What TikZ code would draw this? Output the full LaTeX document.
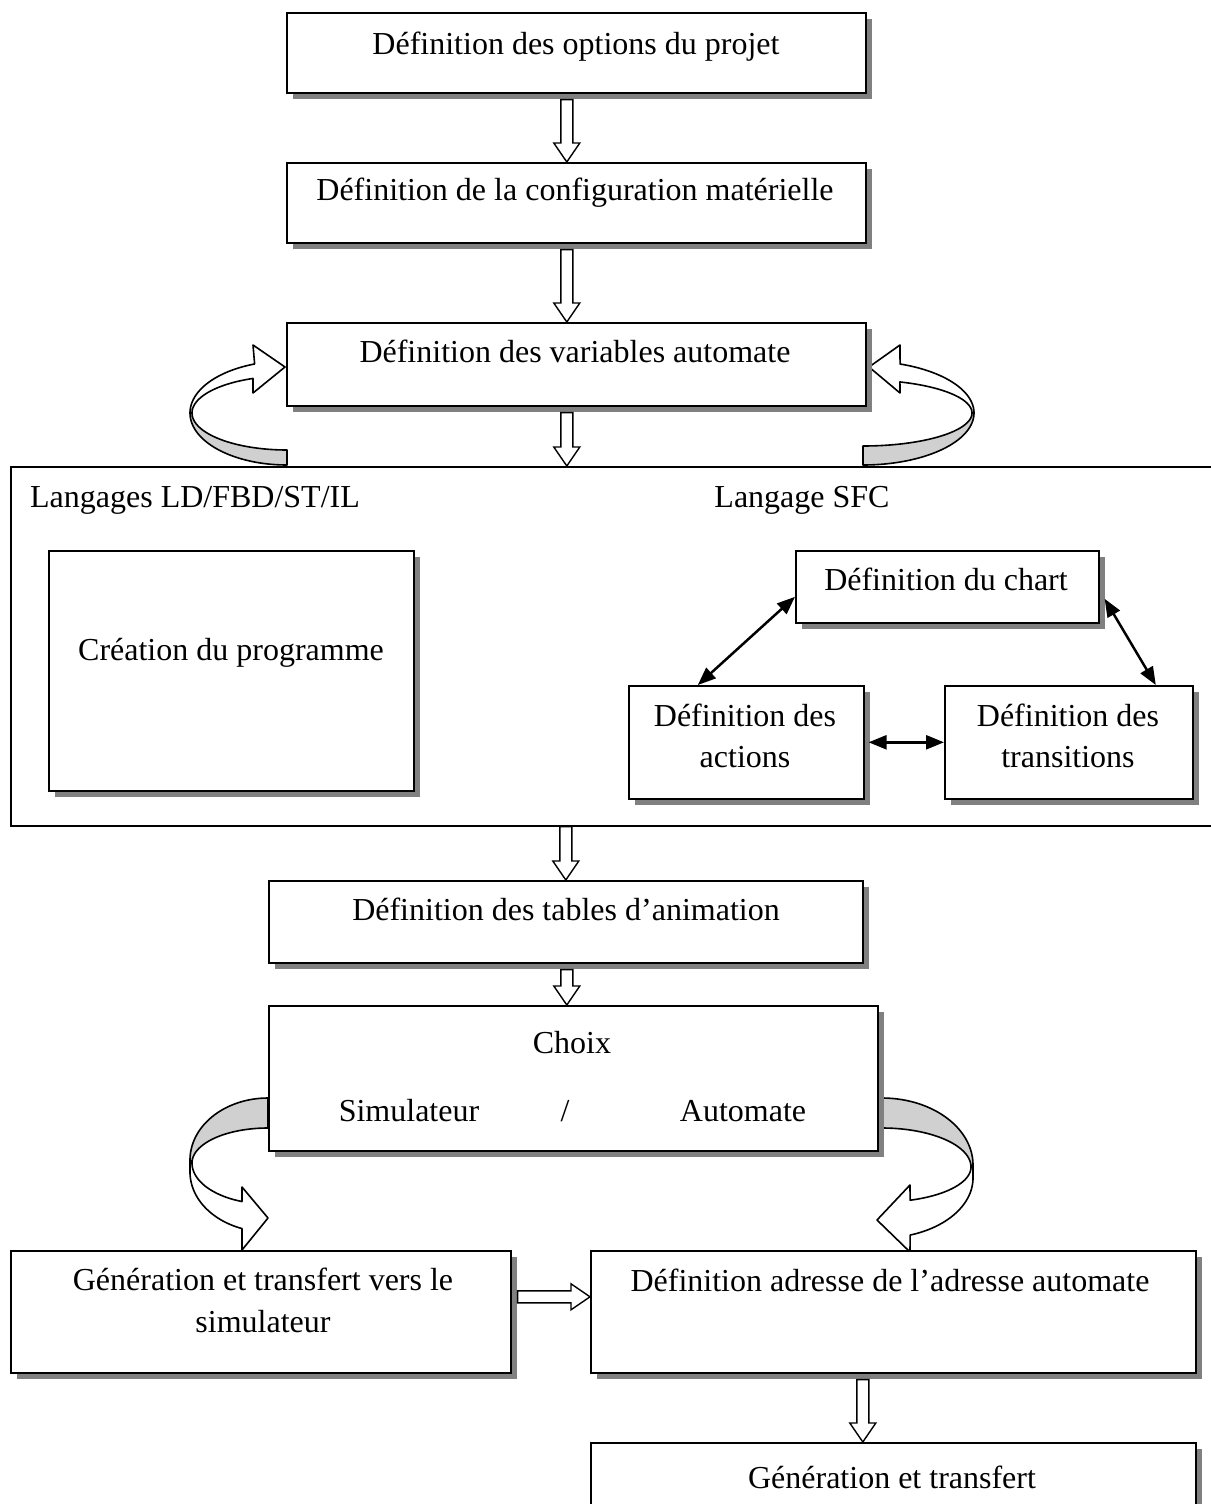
\documentclass[tikz,border=0pt]{standalone}
\usepackage{fontspec}
\setmainfont{Liberation Serif}
\usetikzlibrary{calc,arrows.meta,shadows}

\definecolor{shadowgray}{HTML}{808080}
\definecolor{ribbongray}{HTML}{D0D0D0}

\tikzset{
  panel/.style={draw=black, line width=1.6pt, fill=white, inner sep=0pt, anchor=north west,
    general shadow={fill=shadowgray, shadow xshift=6pt, shadow yshift=-6pt}},
  frame/.style={draw=black, line width=1.6pt, inner sep=0pt, anchor=north west},
  lbl/.style={font=\fontsize{32}{41}\selectfont, inner sep=0pt, anchor=base},
  hollow/.style={draw=black, line width=1.4pt, fill=white, line join=miter},
  ribbon/.style={draw=black, line width=1.6pt, line join=round},
  sfc/.style={line width=2.5pt, {Triangle[length=18pt,width=14pt]}-{Triangle[length=18pt,width=14pt]}},
}

% wide hollow arrow from #1 to #2
\newcommand\hollowarrow[2]{%
  \coordinate (ha-s) at #1;
  \coordinate (ha-e) at #2;
  \coordinate (ha-h) at ($(ha-e)!19pt!(ha-s)$);
  \draw[hollow] ($(ha-s)!6pt!90:(ha-e)$) -- ($(ha-h)!6pt!90:(ha-e)$)
    -- ($(ha-h)!13pt!90:(ha-e)$) -- (ha-e) -- ($(ha-h)!13pt!-90:(ha-e)$)
    -- ($(ha-h)!6pt!-90:(ha-e)$) -- ($(ha-s)!6pt!-90:(ha-e)$) -- cycle;
}

\begin{document}
\begin{tikzpicture}[x=1pt, y=-1pt]
\useasboundingbox (0,0) rectangle (1210,1504);
\fill[white] (0,0) rectangle (1210,1504);

% ---- curved ribbon arrows around the variables box ----
\draw[ribbon, fill=ribbongray]
  plot[domain=180:90, samples=40, variable=\t] ({287+95*cos(\t)},{413+37*sin(\t)})
  -- plot[domain=90:180, samples=40, variable=\t] ({287+97*cos(\t)},{413+52*sin(\t)}) -- cycle;
\draw[ribbon, fill=white]
  plot[domain=180:250.5, samples=40, variable=\t] ({287+97*cos(\t)},{413+52*sin(\t)})
  -- (253,345) -- (285,367) -- (253,393)
  -- plot[domain=249:180, samples=40, variable=\t] ({287+95*cos(\t)},{413+37*sin(\t)}) -- cycle;

\draw[ribbon, fill=ribbongray]
  plot[domain=0:90, samples=40, variable=\t] ({863+109*cos(\t)},{413+33*sin(\t)})
  -- plot[domain=90:0, samples=40, variable=\t] ({863+111*cos(\t)},{413+52*sin(\t)}) -- cycle;
\draw[ribbon, fill=white]
  plot[domain=360:289.5, samples=40, variable=\t] ({863+111*cos(\t)},{413+52*sin(\t)})
  -- (900,345) -- (869,367) -- (900,393)
  -- plot[domain=289.8:360, samples=40, variable=\t] ({863+109*cos(\t)},{413+33*sin(\t)}) -- cycle;

% ---- curved ribbon arrows leaving the choice box ----
\draw[ribbon, fill=ribbongray]
  plot[domain=270:180, samples=40, variable=\t] ({268+78*cos(\t)},{1160+62*sin(\t)})
  -- plot[domain=180:270, samples=40, variable=\t] ({268+76*cos(\t)},{1163+35*sin(\t)}) -- cycle;
\draw[ribbon, fill=white]
  plot[domain=180:110, samples=40, variable=\t] ({268+76*cos(\t)},{1163+41*sin(\t)})
  -- (242,1187) -- (268,1218) -- (242,1250)
  -- plot[domain=109.5:180, samples=40, variable=\t] ({268+78*cos(\t)},{1172+60*sin(\t)})
  -- (190,1160) -- cycle;

\draw[ribbon, fill=ribbongray]
  plot[domain=270:360, samples=40, variable=\t] ({882+91*cos(\t)},{1165+67*sin(\t)})
  -- plot[domain=0:-90, samples=40, variable=\t] ({882+89*cos(\t)},{1167+39*sin(\t)}) -- cycle;
\draw[ribbon, fill=white]
  plot[domain=0:71.6, samples=40, variable=\t] ({882+89*cos(\t)},{1167+35*sin(\t)})
  -- (910,1185) -- (877,1220) -- (910,1252)
  -- plot[domain=72:0, samples=40, variable=\t] ({882+91*cos(\t)},{1178+60*sin(\t)})
  -- (973,1165) -- cycle;

% ---- boxes ----
\node[panel, minimum width=579pt, minimum height=80pt] (b1) at (286,12) {};
\node[panel, minimum width=579pt, minimum height=80pt] (b2) at (286,162) {};
\node[panel, minimum width=579pt, minimum height=83pt] (b3) at (286,322) {};
\node[frame, minimum width=1215pt, minimum height=359pt] (cont) at (10,466) {};
\node[panel, minimum width=365pt, minimum height=240pt] (prog) at (48,550) {};
\node[panel, minimum width=303pt, minimum height=72pt] (chart) at (795,550) {};
\node[panel, minimum width=235pt, minimum height=113pt] (act) at (628,685) {};
\node[panel, minimum width=248pt, minimum height=113pt] (trans) at (944,685) {};
\node[panel, minimum width=594pt, minimum height=82pt] (tables) at (268,880) {};
\node[panel, minimum width=609pt, minimum height=145pt] (choix) at (268,1005) {};
\node[panel, minimum width=500pt, minimum height=122pt] (sim) at (10,1250) {};
\node[panel, minimum width=605pt, minimum height=122pt] (addr) at (590,1250) {};
\node[panel, minimum width=605pt, minimum height=90pt] (gen) at (590,1442) {};

% ---- texts ----
\node[lbl] (t1) at (576,55) {Définition des options du projet};
\node[lbl] (t2) at (575,200) {Définition de la configuration matérielle};
\node[lbl] (t3) at (575,362) {Définition des variables automate};
\node[lbl] (lang1) at (195,507) {Langages LD/FBD/ST/IL};
\node[lbl] (lang2) at (802,507) {Langage SFC};
\node[lbl] (tprog) at (231,660) {Création du programme};
\node[lbl] (tchart) at (946,590) {Définition du chart};
\node[lbl] (tact1) at (745,726) {Définition des};
\node[lbl] (tact2) at (745,767) {actions};
\node[lbl] (ttr1) at (1068,726) {Définition des};
\node[lbl] (ttr2) at (1068,767) {transitions};
\node[lbl] (ttab) at (566,920) {Définition des tables d’animation};
\node[lbl] (tch) at (572,1053) {Choix};
\node[lbl] (tsim) at (409,1121) {Simulateur};
\node[lbl] (tsl) at (565,1121) {/};
\node[lbl] (taut) at (743,1121) {Automate};
\node[lbl] (tsim1) at (263,1290) {Génération et transfert vers le};
\node[lbl] (tsim2) at (263,1332) {simulateur};
\node[lbl] (tadr) at (890,1291) {Définition adresse de l’adresse automate};
\node[lbl] (tgen) at (892,1488) {Génération et transfert};

% ---- hollow flow arrows ----
\coordinate (a1) at ([shift={(-9.5,6)}]b1.south);
\coordinate (a2) at ([xshift=-9.5pt]b2.north);
\hollowarrow{(a1)}{(a2)}
\coordinate (a3) at ([shift={(-9.5,6)}]b2.south);
\coordinate (a4) at ([xshift=-9.5pt]b3.north);
\hollowarrow{(a3)}{(a4)}
\coordinate (a5) at ([shift={(-9.5,6)}]b3.south);
\hollowarrow{(a5)}{(a5 |- cont.north)}
\hollowarrow{(tables.north |- cont.south)}{(tables.north)}
\coordinate (a6) at ([shift={(1,6)}]tables.south);
\hollowarrow{(a6)}{(a6 |- choix.north)}
\coordinate (a7) at ([shift={(6,-15)}]sim.east);
\coordinate (a8) at ([yshift=15pt]addr.west);
\hollowarrow{(a7)}{(a8)}
\coordinate (a9) at ([shift={(-30.5,6)}]addr.south);
\hollowarrow{(a9)}{(a9 |- gen.north)}

% ---- SFC links ----
\draw[sfc] ([yshift=-10pt]chart.west) -- ([xshift=-48.5pt]act.north);
\draw[sfc] ([shift={(5,12)}]chart.east) -- ([xshift=87pt]trans.north);
\draw[sfc] ([xshift=4pt]act.east) -- (trans.west);
\end{tikzpicture}
\end{document}
